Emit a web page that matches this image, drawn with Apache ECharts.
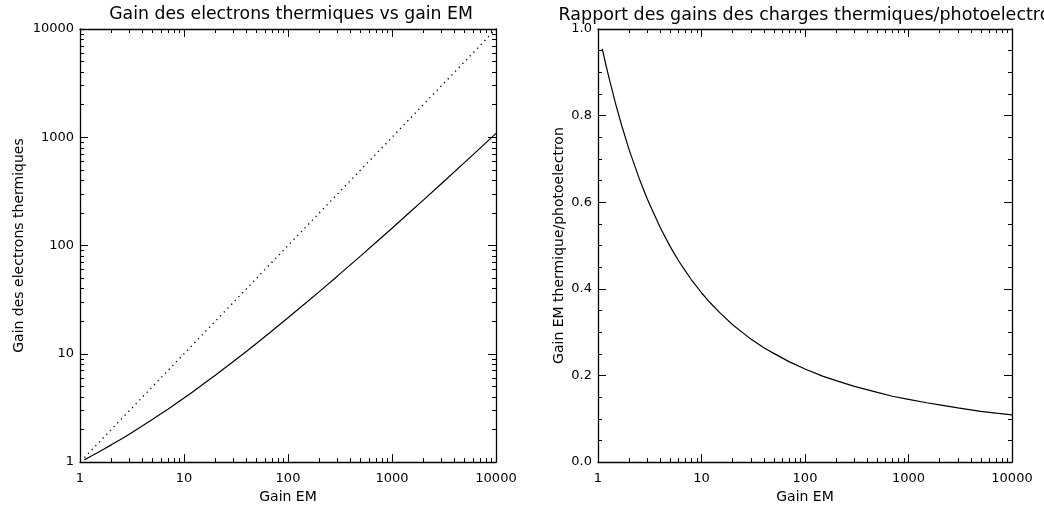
<!DOCTYPE html>
<html>
<head>
<meta charset="utf-8">
<script src="https://cdn.jsdelivr.net/npm/echarts@6/dist/echarts.min.js"></script>
<style>
html,body{margin:0;padding:0;background:#fff;}
#c{width:1044px;height:509px;}
</style>
</head>
<body>
<div id="c"></div>
<script>
// ---- data ----
const gainEM = [1.1, 1.2, 1.3, 1.5, 1.7, 2, 2.5, 3, 4, 5, 6, 7, 8, 10, 12, 15, 20, 30, 40, 50, 70, 100, 150, 200, 300, 500, 700, 1000, 1500, 2000, 3000, 5000, 7000, 10000];
const thermalGain = [1.049, 1.097, 1.143, 1.233, 1.319, 1.443, 1.637, 1.820, 2.164, 2.485, 2.791, 3.083, 3.366, 3.909, 4.427, 5.170, 6.342, 8.526, 10.57, 12.53, 16.24, 21.50, 29.74, 37.56, 52.42, 80.29, 106.7, 144.6, 205.0, 263.0, 374.6, 586.9, 790.5, 1086];
const ratio = [0.954, 0.914, 0.880, 0.822, 0.776, 0.721, 0.655, 0.607, 0.541, 0.497, 0.465, 0.441, 0.421, 0.391, 0.369, 0.345, 0.317, 0.284, 0.264, 0.251, 0.232, 0.215, 0.198, 0.188, 0.175, 0.161, 0.152, 0.145, 0.137, 0.132, 0.125, 0.117, 0.113, 0.109];
const refX = [1.1, 10000];
const refY = [1.1, 10000];
const leftTitle = 'Gain des electrons thermiques vs gain EM';
const rightTitle = 'Rapport des gains des charges thermiques/photoelectron';
const xName = 'Gain EM';
const leftYName = 'Gain des electrons thermiques';
const rightYName = 'Gain EM thermique/photoelectron';
const decades = [1, 10, 100, 1000];
const minorMult = [2, 3, 4, 5, 6, 7, 8, 9];

// minor tick positions for log axes (in decade exponent space, for helper axes)
const minorExp = [];
decades.forEach(d => minorMult.forEach(m => minorExp.push(Math.log10(d * m))));

const FONT = 'DejaVu Sans';
const black = '#000';
const lineW = 1.3;

function logMain(grid, pos, labels, name, nameGap) {
  return {
    type: 'log', logBase: 10, min: 1, max: 10000, gridIndex: grid, position: pos,
    name: name || '', nameLocation: 'middle', nameGap: nameGap || 0,
    nameTextStyle: {fontFamily: FONT, fontSize: 14, color: black},
    axisLine: {show: true, onZero: false, lineStyle: {color: black, width: lineW}},
    axisTick: {show: true, inside: true, length: 8, lineStyle: {color: black, width: 1}},
    axisLabel: {show: labels, fontFamily: FONT, fontSize: 13, color: black, margin: 10,
      formatter: v => String(Math.round(v))},
    splitLine: {show: false}
  };
}
function logMinor(grid, pos) {
  return {
    type: 'value', min: 0, max: 4, gridIndex: grid, position: pos,
    axisLine: {show: false, onZero: false},
    axisTick: {show: true, inside: true, length: 4, customValues: minorExp, lineStyle: {color: black, width: 1}},
    axisLabel: {show: false},
    splitLine: {show: false}
  };
}
function linY(grid, pos, labels, name, nameGap) {
  return {
    type: 'value', min: 0, max: 1, interval: 0.2, gridIndex: grid, position: pos,
    name: name || '', nameLocation: 'middle', nameGap: nameGap || 0,
    nameTextStyle: {fontFamily: FONT, fontSize: 14, color: black},
    axisLine: {show: true, onZero: false, lineStyle: {color: black, width: lineW}},
    axisTick: {show: true, inside: true, length: 8, lineStyle: {color: black, width: 1}},
    minorTick: {show: true, splitNumber: 4, length: 4, lineStyle: {color: black, width: 1}},
    axisLabel: {show: labels, fontFamily: FONT, fontSize: 13, color: black, margin: 6,
      formatter: v => v.toFixed(1)},
    splitLine: {show: false},
    minorSplitLine: {show: false}
  };
}

const chart = echarts.init(document.getElementById('c'), null, {renderer: 'canvas'});
const yLeftMain = logMain(0, 'left', true, leftYName, 54);
yLeftMain.axisLabel.margin = 6;
const option = {
  animation: false,
  backgroundColor: '#fff',
  title: [
    {text: leftTitle, left: 286, top: 1, textAlign: 'center',
      textStyle: {fontFamily: FONT, fontSize: 17.3, fontWeight: 'normal', color: black}},
    {text: rightTitle, left: 805, top: 1, textAlign: 'center',
      textStyle: {fontFamily: FONT, fontSize: 17.5, fontWeight: 'normal', color: black}}
  ],
  grid: [
    {left: 80, top: 29, width: 416, height: 440},
    {left: 598, top: 29, width: 414, height: 440}
  ],
  xAxis: [
    logMain(0, 'bottom', true, xName, 22),
    logMain(0, 'top', false),
    logMinor(0, 'bottom'),
    logMinor(0, 'top'),
    logMain(1, 'bottom', true, xName, 22),
    logMain(1, 'top', false),
    logMinor(1, 'bottom'),
    logMinor(1, 'top')
  ],
  yAxis: [
    yLeftMain,
    logMain(0, 'right', false),
    logMinor(0, 'left'),
    logMinor(0, 'right'),
    linY(1, 'left', true, rightYName, 32),
    linY(1, 'right', false)
  ],
  series: [
    {type: 'line', xAxisIndex: 0, yAxisIndex: 0, showSymbol: false, symbol: 'none',
      data: gainEM.map((g, i) => [g, thermalGain[i]]),
      lineStyle: {color: black, width: 1.2}},
    {type: 'line', xAxisIndex: 0, yAxisIndex: 0, showSymbol: false, symbol: 'none',
      data: refX.map((g, i) => [g, refY[i]]),
      lineStyle: {color: black, width: 1.3, type: [1.3, 4]}},
    {type: 'line', xAxisIndex: 4, yAxisIndex: 4, showSymbol: false, symbol: 'none',
      data: gainEM.map((g, i) => [g, ratio[i]]),
      lineStyle: {color: black, width: 1.2}}
  ]
};
chart.setOption(option);
</script>
</body>
</html>
